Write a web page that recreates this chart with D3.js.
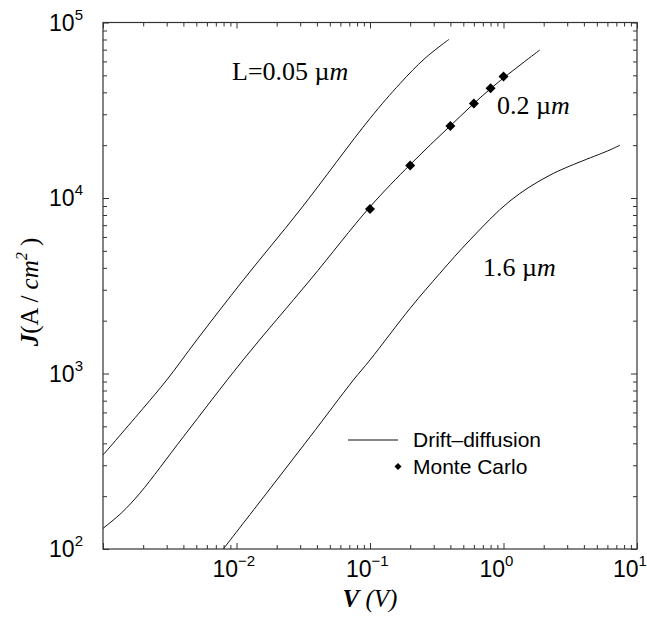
<!DOCTYPE html>
<html>
<head>
<meta charset="utf-8">
<script src="https://cdn.jsdelivr.net/npm/d3@7"></script>
<style>
  body { margin: 0; background: #fff; }
  svg { display: block; }
</style>
</head>
<body>
<svg id="chart" width="647" height="618"></svg>
<script>
// drift-diffusion curves (V in volts, J in A/cm^2)
const v005 = [0.001, 0.002, 0.003, 0.00504, 0.01125, 0.0299, 0.1, 0.168, 0.258, 0.391]
const j005 = [343, 634, 918, 1553, 3411, 8550, 28400, 44900, 62500, 80200]

const v02 = [0.001, 0.00138, 0.00189, 0.004, 0.0112, 0.0356, 0.1, 0.2, 0.4, 0.8, 1.87]
const j02 = [131, 161, 208, 436, 1194, 3411, 8900, 15500, 25800, 42000, 69700]

const v16 = [0.00796, 0.0168, 0.0356, 0.0751, 0.1, 0.2, 0.334, 0.561, 1.12, 2.23, 6.28, 7.46]
const j16 = [100, 208, 436, 918, 1194, 2355, 3725, 5770, 9630, 13500, 18800, 20000]

// monte carlo points for L = 0.2 um
const mcV = [0.1, 0.2, 0.4, 0.6, 0.8, 1.0]
const mcJ = [8650, 15300, 25700, 34600, 42200, 49300]

const xLabelExp = [-2, -1, 0, 1]
const yLabelExp = [2, 3, 4, 5]

const plotLeft = 103, plotRight = 637, plotTop = 22.5, plotBottom = 549

const x = d3.scaleLog().domain([1e-3, 10]).range([plotLeft, plotRight])
const y = d3.scaleLog().domain([100, 1e5]).range([plotBottom, plotTop])

const svg = d3.select('#chart')

svg.append('clipPath').attr('id', 'plot')
  .append('rect')
  .attr('x', plotLeft).attr('y', plotTop)
  .attr('width', plotRight - plotLeft).attr('height', plotBottom - plotTop)

// ticks: all 1..9 multiples, long ones on the decades
const isMajor = d => Math.abs(Math.log10(d) - Math.round(Math.log10(d))) < 1e-6
const xMinor = x.ticks().filter(d => !isMajor(d))
const xMajor = x.ticks().filter(isMajor)
const yMinor = y.ticks().filter(d => !isMajor(d))
const yMajor = y.ticks().filter(isMajor)

function addAxis(axis, tr) {
  const g = svg.append('g').attr('transform', tr).call(axis)
  g.selectAll('path').remove()
  g.selectAll('line').attr('stroke', '#333').attr('stroke-width', 1)
}

addAxis(d3.axisBottom(x).tickValues(xMinor).tickSize(-4).tickFormat(''), `translate(0,${plotBottom})`)
addAxis(d3.axisBottom(x).tickValues(xMajor).tickSize(-6).tickFormat(''), `translate(0,${plotBottom})`)
addAxis(d3.axisTop(x).tickValues(xMinor).tickSize(-4).tickFormat(''), `translate(0,${plotTop})`)
addAxis(d3.axisTop(x).tickValues(xMajor).tickSize(-6).tickFormat(''), `translate(0,${plotTop})`)
addAxis(d3.axisLeft(y).tickValues(yMinor).tickSize(-4).tickFormat(''), `translate(${plotLeft},0)`)
addAxis(d3.axisLeft(y).tickValues(yMajor).tickSize(-6).tickFormat(''), `translate(${plotLeft},0)`)
addAxis(d3.axisRight(y).tickValues(yMinor).tickSize(-4).tickFormat(''), `translate(${plotRight},0)`)
addAxis(d3.axisRight(y).tickValues(yMajor).tickSize(-6).tickFormat(''), `translate(${plotRight},0)`)

svg.append('rect')
  .attr('x', plotLeft).attr('y', plotTop)
  .attr('width', plotRight - plotLeft).attr('height', plotBottom - plotTop)
  .attr('fill', 'none').attr('stroke', '#333').attr('stroke-width', 1.2)

// tick labels 10^n
const sans = 'Liberation Sans, Arial, Helvetica, sans-serif'

xLabelExp.forEach(e => {
  const t = svg.append('text')
    .attr('x', x(Math.pow(10, e)) - 24).attr('y', 577)
    .attr('font-family', sans).attr('font-size', 23).attr('fill', '#000')
  t.append('tspan').text('10')
  t.append('tspan').attr('dy', -11).attr('font-size', 15).text(e < 0 ? '\u2212' + (-e) : e)
})

yLabelExp.forEach(e => {
  const t = svg.append('text')
    .attr('x', 83).attr('y', y(Math.pow(10, e)) + 8)
    .attr('text-anchor', 'end')
    .attr('font-family', sans).attr('font-size', 23).attr('fill', '#000')
  t.append('tspan').text('10')
  t.append('tspan').attr('dy', -11).attr('font-size', 15).text(e)
})

// curves
const line = d3.line()
  .x(d => x(d[0]))
  .y(d => y(d[1]))
  .curve(d3.curveCatmullRom.alpha(0.5))

const curves = [
  d3.zip(v005, j005),
  d3.zip(v02, j02),
  d3.zip(v16, j16)
]

svg.append('g').attr('clip-path', 'url(#plot)')
  .selectAll('path')
  .data(curves)
  .enter()
  .append('path')
  .attr('d', line)
  .attr('fill', 'none')
  .attr('stroke', '#111')
  .attr('stroke-width', 1)

const diamond = r => `M0,${-r}L${r},0L0,${r}L${-r},0Z`

svg.append('g')
  .selectAll('path')
  .data(d3.zip(mcV, mcJ))
  .enter()
  .append('path')
  .attr('transform', d => `translate(${x(d[0])},${y(d[1])})`)
  .attr('d', diamond(5))
  .attr('fill', '#000')

// curve labels
const serif = 'Liberation Serif, Times New Roman, serif'
const curveLabels = [
  {text: 'L=0.05 ', x: 232, y: 80},
  {text: '0.2 ', x: 497, y: 114},
  {text: '1.6 ', x: 483, y: 276}
]
curveLabels.forEach(l => {
  const t = svg.append('text')
    .attr('x', l.x).attr('y', l.y)
    .attr('font-family', serif).attr('font-size', 26).attr('fill', '#000')
    .attr('xml:space', 'preserve')
  t.append('tspan').text(l.text + '\u00b5')
  t.append('tspan').attr('font-style', 'italic').text('m')
})

// legend
svg.append('line')
  .attr('x1', 348).attr('x2', 398).attr('y1', 440).attr('y2', 440)
  .attr('stroke', '#111').attr('stroke-width', 1.2)
svg.append('text')
  .attr('x', 413).attr('y', 447)
  .attr('font-family', sans).attr('font-size', 21).attr('fill', '#000')
  .text('Drift\u2013diffusion')
svg.append('path')
  .attr('transform', 'translate(398,466.5)')
  .attr('d', diamond(3.5))
  .attr('fill', '#000')
svg.append('text')
  .attr('x', 413).attr('y', 473.5)
  .attr('font-family', sans).attr('font-size', 21).attr('fill', '#000')
  .text('Monte Carlo')

// axis titles
const xt = svg.append('text')
  .attr('x', (plotLeft + plotRight) / 2).attr('y', 607)
  .attr('text-anchor', 'middle')
  .attr('font-family', serif).attr('font-size', 25).attr('font-style', 'italic')
  .attr('xml:space', 'preserve')
xt.append('tspan').attr('font-weight', 'bold').text('V')
xt.append('tspan').text(' (V)')

const yt = svg.append('text')
  .attr('transform', 'translate(38,292) rotate(-90)')
  .attr('text-anchor', 'middle')
  .attr('font-family', serif).attr('font-size', 25)
  .attr('xml:space', 'preserve')
yt.append('tspan').attr('font-weight', 'bold').attr('font-style', 'italic').text('J')
yt.append('tspan').text('(A / ')
yt.append('tspan').attr('font-style', 'italic').text('cm')
yt.append('tspan').attr('font-style', 'italic').attr('font-size', 16).attr('dy', -11).text('2')
yt.append('tspan').attr('dy', 11).text(' )')
</script>
</body>
</html>
